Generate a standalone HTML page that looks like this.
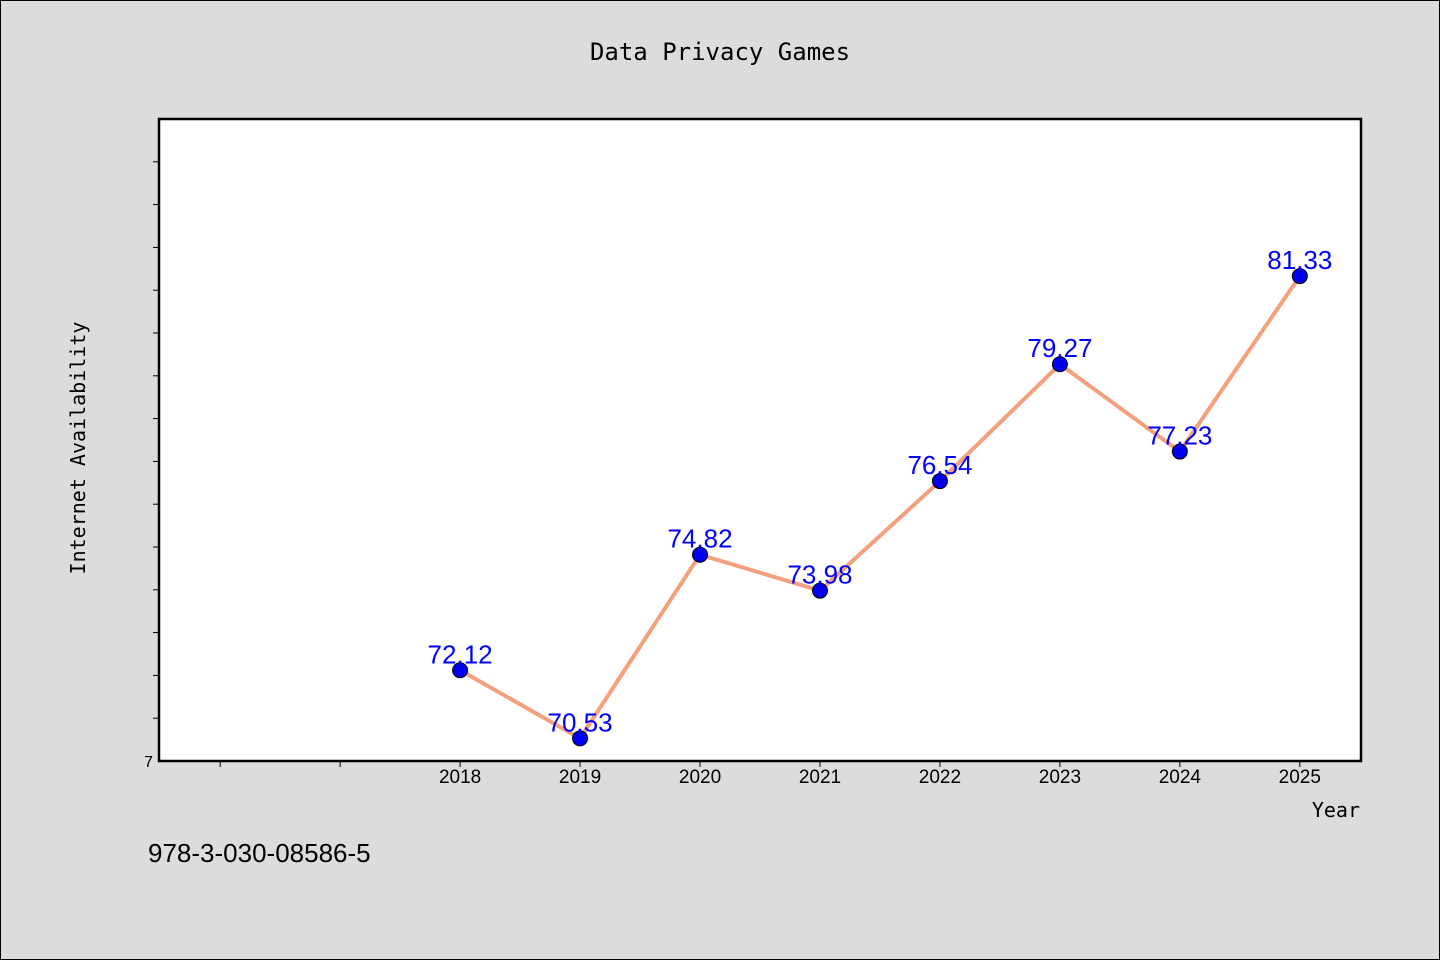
<!DOCTYPE html>
<html><head><meta charset="utf-8"><style>
body{margin:0;background:#dcdcdc;}
svg{display:block;}
</style></head><body>
<svg width="1440" height="960" xmlns="http://www.w3.org/2000/svg">
<rect x="0.5" y="0.5" width="1439" height="959" fill="#dcdcdc" stroke="#000"/>
<text x="720" y="60" text-anchor="middle" font-family="DejaVu Sans Mono, monospace" font-size="24">Data Privacy Games</text>
<rect x="159" y="119" width="1202" height="642" fill="#fff" stroke="#000" stroke-width="2.5"/>
<g id="ticks"></g>
<g id="series"></g>
<text x="85" y="448" transform="rotate(-90 85 448)" text-anchor="middle" font-family="DejaVu Sans Mono, monospace" font-size="20">Internet Availability</text>
<text x="1360" y="817" text-anchor="end" font-family="DejaVu Sans Mono, monospace" font-size="20">Year</text>
<text x="148" y="862" font-family="Liberation Sans, sans-serif" font-size="26">978-3-030-08586-5</text>
</svg>
<script>
const years=[2018,2019,2020,2021,2022,2023,2024,2025];
const values=[72.12,70.53,74.82,73.98,76.54,79.27,77.23,81.33];
const labels=["72.12","70.53","74.82","73.98","76.54","79.27","77.23","81.33"];
const xTicks=[2016,2017,2018,2019,2020,2021,2022,2023,2024,2025];
const yTicks=[71,72,73,74,75,76,77,78,79,80,81,82,83,84];
const X0=159,X1=1361,Y0=761,Y1=119,xmin=2015.49,xmax=2025.51,ymin=70,ymax=85;
const NS="http://www.w3.org/2000/svg";
const xs=v=>X0+(v-xmin)/(xmax-xmin)*(X1-X0);
const ys=v=>Y0-(v-ymin)/(ymax-ymin)*(Y0-Y1);
function mk(t,a,p){const e=document.createElementNS(NS,t);for(const k in a)e.setAttribute(k,a[k]);p.appendChild(e);return e;}
const tg=document.getElementById('ticks'),sg=document.getElementById('series');
xTicks.forEach(v=>{const x=xs(v);
 const l=mk('line',{x1:x,x2:x,y1:Y0,y2:Y0+6,stroke:'#000'},tg);
 
 
 if(v>=2018){const t=mk('text',{x:x,y:Y0+22,'text-anchor':'middle','font-family':'Liberation Sans, sans-serif','font-size':'19'},tg);t.textContent=v;
 
 }
});
yTicks.forEach(v=>{const y=ys(v);
 const l=mk('line',{x1:X0-6,x2:X0,y1:y,y2:y,stroke:'#000'},tg);
 
 
});
const t7=mk('text',{x:X0-6,y:Y0+6,'text-anchor':'end','font-family':'Liberation Sans, sans-serif','font-size':'16'},tg);t7.textContent='7';


const pl=mk('polyline',{points:years.map((y,i)=>xs(y)+','+ys(values[i])).join(' '),fill:'none',stroke:'#f4a07c','stroke-width':'4'},sg);


years.forEach((yr,i)=>{const x=xs(yr),y=ys(values[i]);
 const c=mk('circle',{cx:x,cy:y,r:7.5,fill:'#0000ee',stroke:'#000','stroke-width':'1'},sg);
 
 
 const t=mk('text',{x:x,y:y-7,'text-anchor':'middle','font-family':'Liberation Sans, sans-serif','font-size':'26',fill:'#0000ff'},sg);t.textContent=labels[i];
 
 
});
</script>
</body></html>
